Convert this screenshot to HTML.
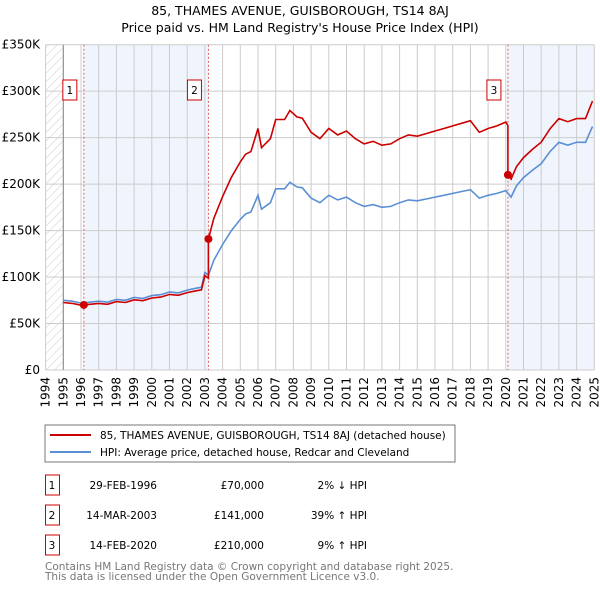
<!DOCTYPE html>
<html><head><meta charset="utf-8"><style>
body{margin:0;background:#fff;font-family:"Liberation Sans","DejaVu Sans",sans-serif;}
svg{display:block}
</style></head><body>
<svg id="c" width="600" height="590" viewBox="0 0 600 590" xmlns="http://www.w3.org/2000/svg" font-family="'DejaVu Sans','Liberation Sans',sans-serif">
<defs><pattern id="hatch" width="6" height="6" patternUnits="userSpaceOnUse" patternTransform="rotate(45)"><line x1="0" y1="0" x2="0" y2="6" stroke="#ccc" stroke-width="1"/></pattern></defs>
<text x="300" y="15" text-anchor="middle" font-size="12.5" fill="#000">85, THAMES AVENUE, GUISBOROUGH, TS14 8AJ</text>
<text x="300" y="32" text-anchor="middle" font-size="12.5" fill="#000">Price paid vs. HM Land Registry's House Price Index (HPI)</text>
<g id="plot"></g>
<rect x="45" y="425" width="410" height="37" fill="#fff" stroke="#777"/>
<line x1="50" y1="435" x2="91" y2="435" stroke="#cc0000" stroke-width="2"/>
<text x="100" y="439" font-size="10.5">85, THAMES AVENUE, GUISBOROUGH, TS14 8AJ (detached house)</text>
<line x1="50" y1="452" x2="91" y2="452" stroke="#5b8fd4" stroke-width="2"/>
<text x="100" y="456" font-size="10.5">HPI: Average price, detached house, Redcar and Cleveland</text>
<g id="table" font-size="10.5"></g>
<text x="45" y="570" font-size="10.5" fill="#777">Contains HM Land Registry data © Crown copyright and database right 2025.</text>
<text x="45" y="580" font-size="10.5" fill="#777">This data is licensed under the Open Government Licence v3.0.</text>
</svg>
<script>
const hpiYears=[1995,1995.5,1996,1996.5,1997,1997.5,1998,1998.5,1999,1999.5,2000,2000.5,2001,2001.5,2002,2002.5,2002.8,2003,2003.2,2003.5,2004,2004.5,2005,2005.3,2005.6,2006,2006.2,2006.7,2007,2007.5,2007.8,2008.2,2008.5,2009,2009.5,2010,2010.5,2011,2011.5,2012,2012.5,2013,2013.5,2014,2014.5,2015,2015.5,2016,2016.5,2017,2017.5,2018,2018.5,2019,2019.5,2020,2020.3,2020.6,2021,2021.5,2022,2022.5,2023,2023.5,2024,2024.5,2024.9];
const hpiValues=[75,74,72,73,74,73,76,75,78,77,80,81,84,83,86,88,89,105,102,118,135,150,162,168,170,188,173,180,195,195,202,197,196,185,180,188,183,186,180,176,178,175,176,180,183,182,184,186,188,190,192,194,185,188,190,193,186,198,207,215,222,235,245,242,245,245,262];
const saleYears=[2096/1000*0+1996.16,2003.2,2020.12];
const salePrices=[70,141,210];
const saleLabels=["1","2","3"];
const saleDates=["29-FEB-1996","14-MAR-2003","14-FEB-2020"];
const salePriceText=["£70,000","£141,000","£210,000"];
const saleHpiText=["2% ↓ HPI","39% ↑ HPI","9% ↑ HPI"];
const yTicks=[0,50,100,150,200,250,300,350];
const yTickLabels=["£0","£50K","£100K","£150K","£200K","£250K","£300K","£350K"];
const xTicks=[1994,1995,1996,1997,1998,1999,2000,2001,2002,2003,2004,2005,2006,2007,2008,2009,2010,2011,2012,2013,2014,2015,2016,2017,2018,2019,2020,2021,2022,2023,2024,2025];

const NS="http://www.w3.org/2000/svg";
const X=t=>45.6+(t-1994)*17.7;
const Y=v=>370-v*(325.3/350);
const plot=document.getElementById('plot');
function mk(tag,attrs,parent){const e=document.createElementNS(NS,tag);for(const k in attrs)e.setAttribute(k,attrs[k]);(parent||plot).appendChild(e);return e;}
function hpiAt(t){if(t<=hpiYears[0])return hpiValues[0];for(let i=1;i<hpiYears.length;i++){if(t<=hpiYears[i]){const f=(t-hpiYears[i-1])/(hpiYears[i]-hpiYears[i-1]);return hpiValues[i-1]+f*(hpiValues[i]-hpiValues[i-1]);}}return hpiValues[hpiValues.length-1];}

// shaded regions
let r=mk('rect',{x:X(1994),y:Y(350),width:X(1995)-X(1994),height:Y(0)-Y(350),fill:'url(#hatch)'});


r=mk('rect',{x:X(saleYears[0]),y:Y(350),width:X(saleYears[1])-X(saleYears[0]),height:Y(0)-Y(350),fill:'#f0f4fc'});


r=mk('rect',{x:X(saleYears[2]),y:Y(350),width:X(2025)-X(saleYears[2]),height:Y(0)-Y(350),fill:'#f0f4fc'});


// grid
yTicks.forEach((v,i)=>{
 let l=mk('line',{x1:X(1994),x2:X(2025),y1:Y(v),y2:Y(v),stroke:'#ccc'});
 
 
 let t=mk('text',{x:40,y:Y(v)+4,'text-anchor':'end','font-size':'12'});t.textContent=yTickLabels[i];
 
 
});
xTicks.forEach(yr=>{
 let l=mk('line',{x1:X(yr),x2:X(yr),y1:Y(350),y2:Y(0),stroke:'#ccc'});
 
 
 let t=mk('text',{x:0,y:0,'font-size':'12','text-anchor':'end',transform:`translate(${X(yr)+4},${377}) rotate(-90)`});t.textContent=yr;
 
 
});
let ax=mk('line',{x1:X(1995),x2:X(1995),y1:Y(350),y2:Y(0),stroke:'#888'});


// sale vlines
saleYears.forEach((s,i)=>{
 let l=mk('line',{x1:X(s),x2:X(s),y1:Y(350),y2:Y(0),stroke:'#e06060','stroke-dasharray':'2,2'});
 
 
});
// series
let hp='',rp='';
const ts=[...hpiYears];saleYears.forEach(s=>{ts.push(s-0.001);ts.push(s);});ts.sort((a,b)=>a-b);
ts.forEach((t,i)=>{
 const h=hpiAt(t);
 hp+=(i?'L':'M')+X(t).toFixed(1)+','+Y(h).toFixed(1);
 let k=0;for(let j=0;j<saleYears.length;j++)if(t>=saleYears[j])k=j;
 const v=h*salePrices[k]/hpiAt(saleYears[k]);
 rp+=(i?'L':'M')+X(t).toFixed(1)+','+Y(v).toFixed(1);
});
let p=mk('path',{d:hp,fill:'none',stroke:'#5b8fd4','stroke-width':'1.6'});


p=mk('path',{d:rp,fill:'none',stroke:'#cc0000','stroke-width':'1.6'});


saleYears.forEach((s,i)=>{
 let c=mk('circle',{cx:X(s),cy:Y(salePrices[i]),r:4,fill:'#cc0000'});
 
 
 let b=mk('rect',{x:X(s)-21,y:80,width:14,height:20,fill:'#fff',stroke:'#cc0000'});
 
 
 let t=mk('text',{x:X(s)-14,y:94,'text-anchor':'middle','font-size':'10.5'});t.textContent=saleLabels[i];
 
 
});
// table
const tb=document.getElementById('table');
saleLabels.forEach((lab,i)=>{
 const cy=483+i*30;
 let b=mk('rect',{x:45.5,y:cy-8,width:14,height:20,fill:'#fff',stroke:'#cc0000'},tb);
 
 
 let t=mk('text',{x:52,y:cy+6,'text-anchor':'middle'},tb);t.textContent=lab;
 
 
 t=mk('text',{x:157,y:cy+6,'text-anchor':'end'},tb);t.textContent=saleDates[i];
 
 
 t=mk('text',{x:264,y:cy+6,'text-anchor':'end'},tb);t.textContent=salePriceText[i];
 
 
 t=mk('text',{x:367,y:cy+6,'text-anchor':'end'},tb);t.textContent=saleHpiText[i];
 
 
});
</script>
</body></html>
